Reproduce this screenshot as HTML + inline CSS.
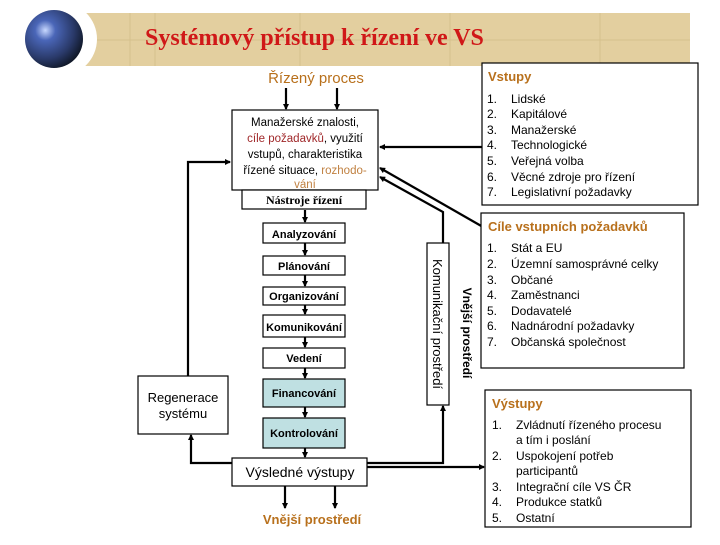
<!DOCTYPE html>
<html><head><meta charset="utf-8"><style>
body{margin:0;width:720px;height:540px;background:#fff;overflow:hidden;font-family:"Liberation Sans",sans-serif}
</style></head><body>
<svg width="720" height="540" viewBox="0 0 720 540" xmlns="http://www.w3.org/2000/svg" font-family="Liberation Sans, sans-serif">
<defs>
<radialGradient id="g" cx="0.35" cy="0.35" r="0.7">
<stop offset="0" stop-color="#c8d8ff"/><stop offset="0.25" stop-color="#4a66b8"/><stop offset="0.7" stop-color="#2a3a6a"/><stop offset="1" stop-color="#101828"/></radialGradient>
<marker id="a" markerWidth="6" markerHeight="6" refX="5" refY="3" orient="auto" markerUnits="userSpaceOnUse"><path d="M0,0 L6,3 L0,6z" fill="#000"/></marker>
</defs>
<rect x="85" y="13" width="605" height="53" fill="#e3cf9f"/>
<g stroke="#d6c08c" stroke-width="1"><line x1="130" y1="13" x2="130" y2="66"/><line x1="155" y1="13" x2="155" y2="66"/><line x1="85" y1="40" x2="690" y2="40"/><line x1="300" y1="13" x2="300" y2="66"/><line x1="450" y1="13" x2="450" y2="66"/><line x1="600" y1="13" x2="600" y2="66"/></g>
<circle cx="60" cy="39" r="37" fill="#fff"/>
<circle cx="54" cy="39" r="29" fill="url(#g)"/>
<text x="145" y="45" font-family="Liberation Serif, serif" font-weight="bold" font-size="24" fill="#d01818">Systémový přístup k řízení ve VS</text>

<text x="316" y="83" text-anchor="middle" font-size="15" fill="#b8701c">Řízený proces</text>
<g stroke="#000" stroke-width="2.2" fill="none">
<line x1="286" y1="88" x2="286" y2="109" marker-end="url(#a)"/>
<line x1="337" y1="88" x2="337" y2="109" marker-end="url(#a)"/>
<line x1="482" y1="147" x2="380" y2="147" marker-end="url(#a)"/>
<line x1="483" y1="227" x2="380" y2="168" marker-end="url(#a)"/>
<polyline points="443,243 443,212 380,177" marker-end="url(#a)"/>
<polyline points="188,376 188,162 230,162" marker-end="url(#a)"/>
<line x1="305" y1="210" x2="305" y2="222" marker-end="url(#a)"/>
<line x1="305" y1="243" x2="305" y2="255" marker-end="url(#a)"/>
<line x1="305" y1="275" x2="305" y2="286" marker-end="url(#a)"/>
<line x1="305" y1="305" x2="305" y2="314" marker-end="url(#a)"/>
<line x1="305" y1="337" x2="305" y2="347" marker-end="url(#a)"/>
<line x1="305" y1="368" x2="305" y2="378" marker-end="url(#a)"/>
<line x1="305" y1="407" x2="305" y2="417" marker-end="url(#a)"/>
<line x1="305" y1="448" x2="305" y2="457" marker-end="url(#a)"/>
<line x1="285" y1="486" x2="285" y2="508" marker-end="url(#a)"/>
<line x1="335" y1="486" x2="335" y2="508" marker-end="url(#a)"/>
<polyline points="232,463 191,463 191,435" marker-end="url(#a)"/>
<polyline points="367,463 443,463 443,406" marker-end="url(#a)"/>
<line x1="367" y1="467" x2="484" y2="467" marker-end="url(#a)"/>
</g>
<g stroke="#000" stroke-width="1.2">
<rect x="232" y="110" width="146" height="80" fill="#fff"/>
<rect x="242" y="190" width="124" height="19" fill="#fff"/>
<rect x="263" y="223" width="82" height="20" fill="#fff"/>
<rect x="263" y="256" width="82" height="19" fill="#fff"/>
<rect x="263" y="287" width="82" height="18" fill="#fff"/>
<rect x="263" y="315" width="82" height="22" fill="#fff"/>
<rect x="263" y="348" width="82" height="20" fill="#fff"/>
<rect x="263" y="379" width="82" height="28" fill="#bfe0e2"/>
<rect x="263" y="418" width="82" height="30" fill="#bfe0e2"/>
<rect x="232" y="458" width="135" height="28" fill="#fff"/>
<rect x="138" y="376" width="90" height="58" fill="#fff"/>
<rect x="427" y="243" width="22" height="162" fill="#fff"/>
<rect x="482" y="63" width="216" height="142" fill="#fff"/>
<rect x="481" y="213" width="203" height="155" fill="#fff"/>
<rect x="485" y="390" width="206" height="137" fill="#fff"/>
</g>
<g font-size="11.5" text-anchor="middle">
<text x="305" y="126">Manažerské znalosti,</text>
<text x="305" y="142"><tspan fill="#a0282a">cíle požadavků</tspan>, využití</text>
<text x="305" y="158">vstupů, charakteristika</text>
<text x="305" y="174">řízené situace, <tspan fill="#c08040">rozhodo-</tspan></text>
<text x="305" y="188" fill="#c08040">vání</text>
<text x="304" y="204" font-family="Liberation Serif, serif" font-weight="bold" font-size="12">Nástroje řízení</text>
</g>
<g font-size="11" font-weight="bold" text-anchor="middle">
<text x="304" y="238">Analyzování</text>
<text x="304" y="270">Plánování</text>
<text x="304" y="300">Organizování</text>
<text x="304" y="331">Komunikování</text>
<text x="304" y="362">Vedení</text>
<text x="304" y="397">Financování</text>
<text x="304" y="437">Kontrolování</text>
</g>
<text x="300" y="477" text-anchor="middle" font-size="14">Výsledné výstupy</text>
<text x="312" y="524" text-anchor="middle" font-size="13" font-weight="bold" fill="#b8701c">Vnější prostředí</text>
<text x="183" y="402" text-anchor="middle" font-size="13">Regenerace</text>
<text x="183" y="418" text-anchor="middle" font-size="13">systému</text>
<text transform="translate(433,324) rotate(90)" text-anchor="middle" font-size="13">Komunikační prostředí</text>
<text transform="translate(463,333) rotate(90)" text-anchor="middle" font-size="12" font-weight="bold">Vnější prostředí</text>

<g font-size="12">
<text x="488" y="81" font-size="13" font-weight="bold" fill="#b8701c">Vstupy</text>
<text x="487" y="103">1.</text><text x="511" y="103">Lidské</text>
<text x="487" y="118">2.</text><text x="511" y="118">Kapitálové</text>
<text x="487" y="134">3.</text><text x="511" y="134">Manažerské</text>
<text x="487" y="149">4.</text><text x="511" y="149">Technologické</text>
<text x="487" y="165">5.</text><text x="511" y="165">Veřejná volba</text>
<text x="487" y="181">6.</text><text x="511" y="181">Věcné zdroje pro řízení</text>
<text x="487" y="196">7.</text><text x="511" y="196">Legislativní požadavky</text>

<text x="488" y="231" font-size="13" font-weight="bold" fill="#b8701c">Cíle vstupních požadavků</text>
<text x="487" y="252">1.</text><text x="511" y="252">Stát a EU</text>
<text x="487" y="268">2.</text><text x="511" y="268">Územní samosprávné celky</text>
<text x="487" y="284">3.</text><text x="511" y="284">Občané</text>
<text x="487" y="299">4.</text><text x="511" y="299">Zaměstnanci</text>
<text x="487" y="315">5.</text><text x="511" y="315">Dodavatelé</text>
<text x="487" y="330">6.</text><text x="511" y="330">Nadnárodní požadavky</text>
<text x="487" y="346">7.</text><text x="511" y="346">Občanská společnost</text>

<text x="492" y="408" font-size="13" font-weight="bold" fill="#b8701c">Výstupy</text>
<text x="492" y="429">1.</text><text x="516" y="429">Zvládnutí řízeného procesu</text>
<text x="516" y="444">a tím i poslání</text>
<text x="492" y="460">2.</text><text x="516" y="460">Uspokojení potřeb</text>
<text x="516" y="475">participantů</text>
<text x="492" y="491">3.</text><text x="516" y="491">Integrační cíle VS ČR</text>
<text x="492" y="506">4.</text><text x="516" y="506">Produkce statků</text>
<text x="492" y="522">5.</text><text x="516" y="522">Ostatní</text>
</g>
</svg>
</body></html>
